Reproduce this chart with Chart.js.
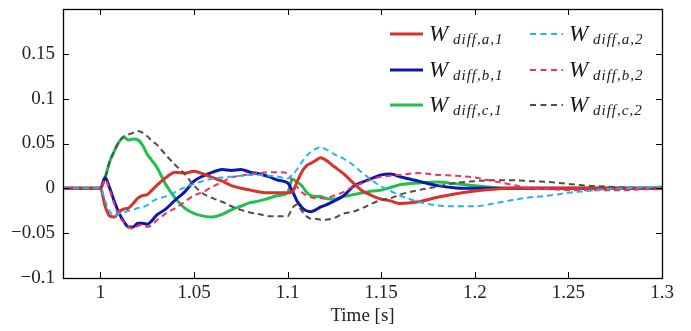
<!DOCTYPE html>
<html><head><meta charset="utf-8">
<script src="https://cdn.jsdelivr.net/npm/chart.js@4.4.1/dist/chart.umd.min.js"></script>
<style>html,body{margin:0;padding:0;background:#fff;}#wrap{width:691px;height:331px;position:relative;}</style>
</head><body><div id="wrap"><canvas id="c" width="691" height="331"></canvas></div>
<script>
// ---- data (time in s) ----
const time = [0.98,1.0,1.0025,1.005,1.0075,1.01,1.0125,1.015,1.0175,1.02,1.0225,1.025,1.0275,1.03,
  1.035,1.04,1.045,1.05,1.055,1.06,1.065,1.07,1.075,1.08,1.085,1.09,1.095,1.1,
  1.1025,1.105,1.1075,1.11,1.1125,1.115,1.1175,1.12,
  1.125,1.13,1.135,1.14,1.145,1.15,1.155,1.16,
  1.17,1.18,1.19,1.2,1.21,1.22,1.23,1.24,1.25,1.26,1.27,1.28,1.29,1.3];
const wDiffA1 = [0,0,-0.02,-0.031,-0.032,-0.026,-0.023,-0.022,-0.017,-0.011,-0.008,-0.007,-0.002,0.003,
  0.012,0.018,0.017,0.019,0.016,0.012,0.008,0.003,0.0,-0.002,-0.004,-0.005,-0.005,-0.005,
  -0.004,0.007,0.018,0.025,0.028,0.031,0.034,0.032,
  0.024,0.016,0.006,-0.003,-0.008,-0.012,-0.014,-0.017,
  -0.015,-0.010,-0.006,-0.003,-0.001,0,0,0,0,0,0,0,0,0];
const wDiffB1 = [0,0,0.012,0.0,-0.015,-0.028,-0.037,-0.043,-0.043,-0.039,-0.039,-0.040,-0.036,-0.030,
  -0.023,-0.013,-0.004,0.008,0.014,0.018,0.021,0.020,0.021,0.018,0.016,0.013,0.009,0.006,
  -0.003,-0.014,-0.021,-0.025,-0.026,-0.024,-0.021,-0.019,
  -0.014,-0.008,0.002,0.007,0.011,0.015,0.016,0.013,
  0.008,0.003,0.0005,0,0,0,0,0,0,0,0,0,0,0];
const wDiffC1 = [0,0,0.012,0.030,0.042,0.052,0.057,0.054,0.055,0.054,0.048,0.038,0.031,0.024,
  0.004,-0.011,-0.022,-0.028,-0.031,-0.032,-0.029,-0.024,-0.020,-0.016,-0.014,-0.011,-0.008,-0.005,
  0.010,0.007,0.003,-0.004,-0.008,-0.009,-0.009,-0.011,
  -0.012,-0.009,-0.007,-0.005,-0.003,-0.002,0.001,0.004,
  0.006,0.007,0.005,0.003,0.001,0,0,0,0,0,0,0,0,0];
const wDiffA2 = [0,0,-0.014,-0.026,-0.031,-0.028,-0.027,-0.025,-0.024,-0.022,-0.021,-0.019,-0.015,-0.012,
  -0.009,-0.004,0.001,0.005,0.008,0.011,0.012,0.013,0.014,0.015,0.015,0.014,0.013,0.011,
  0.015,0.021,0.029,0.036,0.041,0.044,0.046,0.044,
  0.038,0.033,0.026,0.017,0.009,0.002,-0.003,-0.008,
  -0.015,-0.019,-0.020,-0.020,-0.017,-0.013,-0.010,-0.008,-0.005,-0.003,-0.001,0.0,0.001,0.002];
const wDiffB2 = [0,0,0.010,-0.002,-0.018,-0.031,-0.038,-0.043,-0.045,-0.042,-0.041,-0.043,-0.041,-0.036,
  -0.028,-0.022,-0.015,-0.008,-0.004,0.002,0.007,0.012,0.014,0.016,0.017,0.018,0.018,0.017,
  0.008,0.002,-0.004,-0.008,-0.010,-0.011,-0.011,-0.011,
  -0.008,-0.004,0.002,0.006,0.010,0.013,0.014,0.015,
  0.017,0.015,0.014,0.012,0.008,0.004,0.0,-0.001,-0.002,-0.002,-0.002,-0.002,-0.001,-0.001];
const wDiffC2 = [0,0,0.012,0.030,0.042,0.052,0.058,0.060,0.062,0.064,0.062,0.058,0.053,0.049,
  0.037,0.026,0.016,0.003,-0.006,-0.011,-0.015,-0.020,-0.024,-0.027,-0.029,-0.031,-0.031,-0.031,
  -0.022,-0.018,-0.025,-0.031,-0.034,-0.034,-0.035,-0.035,
  -0.033,-0.028,-0.026,-0.022,-0.017,-0.013,-0.011,-0.007,
  -0.002,0.002,0.006,0.008,0.009,0.009,0.008,0.007,0.005,0.003,0.002,0.001,0.0,0.0];

const xTickValues = [1,1.05,1.1,1.15,1.2,1.25,1.3];
const xTickLabels = ['1','1.05','1.1','1.15','1.2','1.25','1.3'];
const yTickValues = [-0.1,-0.05,0,0.05,0.1,0.15,0.2];
const yTickLabels = ['\u22120.1','\u22120.05','0','0.05','0.1','0.15',''];
const xTitle = 'Time [s]';
const seriesSubs = ['diff,a,1','diff,b,1','diff,c,1','diff,a,2','diff,b,2','diff,c,2'];

// ---- styles ----
const colors = ['#d8322a','#0c16b0','#21bf4f','#22b4ee','#f2325e','#584c42'];
const values = [wDiffA1,wDiffB1,wDiffC1,wDiffA2,wDiffB2,wDiffC2];
const dashed = [false,false,false,true,true,true];
const pts = v => time.map((t,i)=>({x:t,y:v[i]}));

const datasets = values.map((v,i)=>({
  label: 'W_' + seriesSubs[i],
  data: pts(v),
  borderColor: colors[i],
  borderWidth: dashed[i] ? 2 : 3,
  borderDash: dashed[i] ? [6,4] : [],
  pointRadius: 0,
  fill: false,
  cubicInterpolationMode: 'monotone',
  order: dashed[i] ? 1 : 2
}));

const serif = '"Liberation Serif", "Times New Roman", serif';

const framePlugin = {
  id: 'frame',
  afterDatasetsDraw(chart) {
    const {ctx, chartArea: a, scales: {x, y}} = chart;
    ctx.save();
    ctx.strokeStyle = '#000';
    ctx.lineWidth = 1;
    ctx.beginPath();
    xTickValues.forEach(v => {
      const px = Math.round(x.getPixelForValue(v)) + 0.5;
      ctx.moveTo(px, a.bottom); ctx.lineTo(px, a.bottom - 6);
      ctx.moveTo(px, a.top); ctx.lineTo(px, a.top + 6);
    });
    yTickValues.forEach(v => {
      const py = Math.round(y.getPixelForValue(v)) + 0.5;
      ctx.moveTo(a.left, py); ctx.lineTo(a.left + 6, py);
      ctx.moveTo(a.right, py); ctx.lineTo(a.right - 6, py);
    });
    ctx.stroke();
    ctx.lineWidth = 1.3;
    ctx.strokeRect(Math.round(a.left) + 0.5, Math.round(a.top) + 0.5,
      Math.round(a.right - a.left), Math.round(a.bottom - a.top));
    ctx.restore();
  }
};

const legendPlugin = {
  id: 'texLegend',
  afterDraw(chart) {
    const {ctx, chartArea: a} = chart;
    const colX = [a.right - 272, a.right - 132];
    const rowY = [a.top + 25, a.top + 61, a.top + 96];
    ctx.save();
    for (let i = 0; i < 6; i++) {
      const col = i < 3 ? 0 : 1, row = i % 3;
      const x0 = colX[col], yy = rowY[row];
      ctx.strokeStyle = colors[i];
      ctx.lineWidth = dashed[i] ? 2 : 3;
      ctx.setLineDash(dashed[i] ? [6,4.5] : []);
      ctx.beginPath(); ctx.moveTo(x0, yy); ctx.lineTo(x0 + 33, yy); ctx.stroke();
      ctx.setLineDash([]);
      ctx.fillStyle = '#1a1a1a';
      ctx.textBaseline = 'alphabetic';
      ctx.textAlign = 'left';
      ctx.font = 'italic 23px ' + serif;
      ctx.fillText('W', x0 + 39, yy + 7);
      ctx.font = 'italic 15px ' + serif;
      if ('letterSpacing' in ctx) ctx.letterSpacing = '1px';
      ctx.fillText(seriesSubs[i], x0 + 63, yy + 10);
      if ('letterSpacing' in ctx) ctx.letterSpacing = '0px';
    }
    ctx.restore();
  }
};

const tickFont = {family: serif, size: 19};

new Chart(document.getElementById('c').getContext('2d'), {
  type: 'line',
  data: {datasets},
  options: {
    responsive: false,
    animation: false,
    layout: {padding: {top: 9, right: 29, left: 0, bottom: 0}},
    plugins: {legend: {display: false}, tooltip: {enabled: false}},
    scales: {
      x: {
        type: 'linear', min: 0.98, max: 1.3,
        afterBuildTicks: s => { s.ticks = xTickValues.map(v => ({value: v})); },
        afterFit: s => { s.height = 53; s.paddingLeft = 0; s.paddingRight = 0; },
        grid: {display: false, drawTicks: false}, border: {display: false},
        ticks: {font: tickFont, color: '#222', padding: 4, maxRotation: 0, autoSkip: false,
          callback: (v, i) => xTickLabels[i]},
        title: {display: true, text: xTitle, font: {family: serif, size: 19}, color: '#222',
          padding: {top: 0, bottom: 4}}
      },
      y: {
        type: 'linear', min: -0.1, max: 0.2,
        afterBuildTicks: s => { s.ticks = yTickValues.map(v => ({value: v})); },
        afterFit: s => { s.width = 63; s.paddingTop = 0; s.paddingBottom = 0; },
        grid: {display: false, drawTicks: false}, border: {display: false},
        ticks: {font: tickFont, color: '#222', padding: 8, autoSkip: false,
          callback: (v, i) => yTickLabels[i]}
      }
    }
  },
  plugins: [framePlugin, legendPlugin]
});
</script>
</body></html>
